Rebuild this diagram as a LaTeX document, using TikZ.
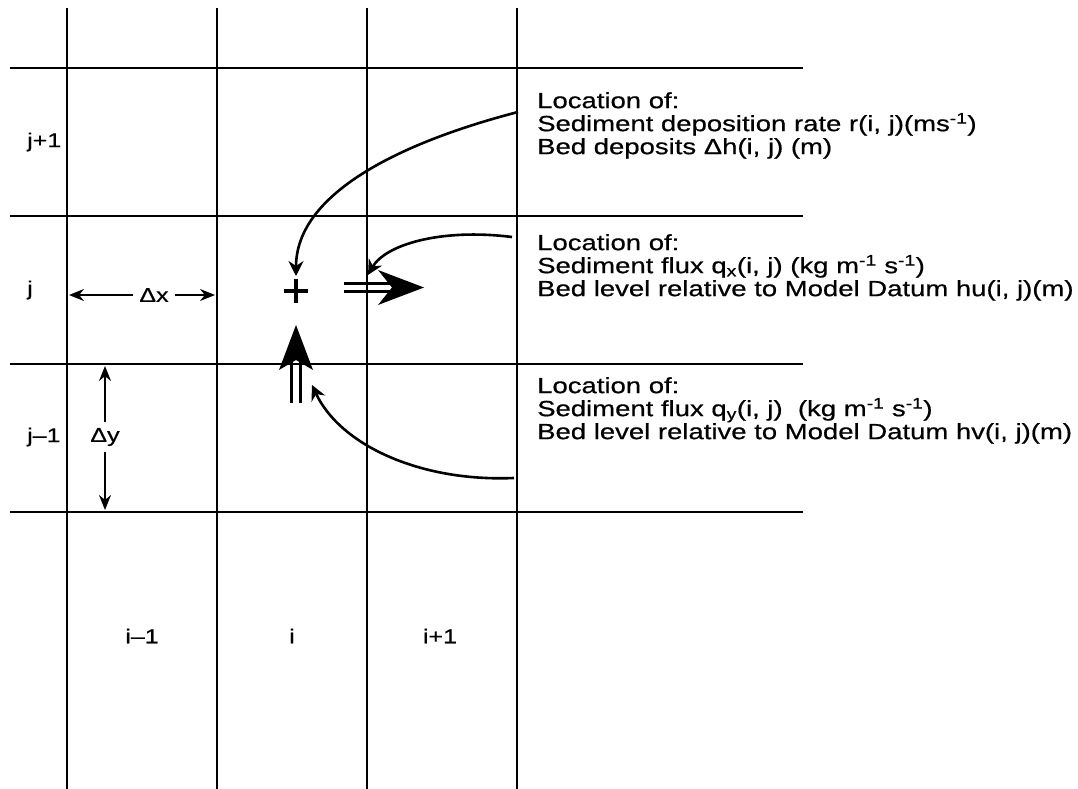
\documentclass[tikz,border=0pt]{standalone}
\usepackage{fontspec}
\setmainfont[FakeStretch=1.25,FakeBold=0.6]{Liberation Sans}
\usetikzlibrary{arrows.meta}
\begin{document}
\begin{tikzpicture}[x=1pt,y=-1pt,
  grid/.style={line width=1.8pt},
  lab/.style={font=\fontsize{20}{23}\selectfont, inner sep=0pt},
  info/.style={font=\fontsize{22}{23}\selectfont, align=left, anchor=north west, inner sep=0pt},
  dimarrow/.style={line width=1.8pt, -{Stealth[length=15pt,width=12pt]}},
  callout/.style={line width=2.6pt, -{Stealth[length=15pt,width=15pt,inset=5pt]}},
  flux/.style={line width=3pt},
  fluxhead/.style={fill=black}
]
\useasboundingbox (0,0) rectangle (1078,789);
% grid
\foreach \x in {67,217,367,517} \draw[grid] (\x,8) -- (\x,789);
\foreach \y in {68,216,364,512} \draw[grid] (10,\y) -- (803,\y);
% row/column labels
\node[lab, anchor=west] (jp) at (27,142) {j+1};
\node[lab, anchor=west] (jj) at (27,290) {j};
\node[lab, anchor=west] (jm) at (27,437) {j–1};
\node[lab] (im) at (142,636) {i–1};
\node[lab] (ii) at (292,636) {i};
\node[lab] (ip) at (440,636) {i+1};
% dimensions
\node[lab, fill=white, inner sep=2pt] (dx) at (154,295) {Δx};
\coordinate (dxl) at (69,295);
\coordinate (dxr) at (215,295);
\draw[dimarrow] (dx.west) ++(-4,0) -- (dxl);
\draw[dimarrow] (dx.east) ++(4,0) -- (dxr);
\node[lab, fill=white, inner sep=2pt] (dy) at (105,437) {Δy};
\coordinate (dyt) at (105,366);
\coordinate (dyb) at (105,510);
\draw[dimarrow] (dy.north) ++(0,-4) -- (dyt);
\draw[dimarrow] (dy.south) ++(0,4) -- (dyb);
% plus (location of r, dh)
\coordinate (pc) at (296,291);
\draw[line width=3.5pt] (284,291) -- (308,291) (296,279) -- (296,303);
% x flux arrow
\draw[flux] (344,283.5) -- (392,283.5) (344,291.5) -- (392,291.5);
\fill[fluxhead] (424,287.5) -- (378,270) -- (392,287.5) -- (378,305) -- cycle;
% y flux arrow
\draw[flux] (291.5,360) -- (291.5,403) (300.5,360) -- (300.5,403);
\fill[fluxhead] (296,325) -- (313,370) -- (296,360) -- (279,370) -- cycle;
% targets
\coordinate (tplus) at (296,276);
\coordinate (tx) at (368,275);
\coordinate (ty) at (312,385);
% info texts
\node[info] (t1) at (537,92) {Location of:\\Sediment deposition rate r(i, j)(ms\textsuperscript{-1})\\Bed deposits Δh(i, j) (m)};
\node[info] (t2) at (537,234) {Location of:\\Sediment flux q\textsubscript{x}(i, j) (kg m\textsuperscript{-1} s\textsuperscript{-1})\\Bed level relative to Model Datum hu(i, j)(m)};
\node[info] (t3) at (537,377) {Location of:\\Sediment flux q\textsubscript{y}(i, j)~ (kg m\textsuperscript{-1} s\textsuperscript{-1})\\Bed level relative to Model Datum hv(i, j)(m)};
% callouts
\coordinate (s1) at (518,112);
\coordinate (s2) at (512,237);
\coordinate (s3) at (514,478);
\draw[callout] (s1) .. controls (410,140) and (296,190) .. (tplus);
\draw[callout] (s2) .. controls (440,228) and (385,245) .. (tx);
\draw[callout] (s3) .. controls (420,482) and (340,445) .. (ty);
\end{tikzpicture}
\end{document}
